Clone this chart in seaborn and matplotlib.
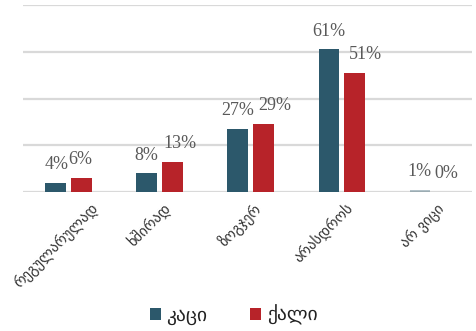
import matplotlib
matplotlib.use("Agg")
import matplotlib.pyplot as plt
import matplotlib.transforms as mtransforms
from matplotlib.patches import Patch
import seaborn as sns
import pandas as pd

categories = ["რეგულარულად", "ხშირად", "ზოგჯერ", "არასდროს", "არ ვიცი"]
series = ["კაცი", "ქალი"]
men = [4, 8, 27, 61, 1]
women = [6, 13, 29, 51, 0]
colors = ["#2C586B", "#B72329"]

df = pd.DataFrame({
    "cat": categories * 2,
    "sex": [series[0]] * len(categories) + [series[1]] * len(categories),
    "val": men + women,
})

sns.set_theme(style="white")
plt.rcParams["font.family"] = ["DejaVu Sans"]

fig = plt.figure(figsize=(4.77, 3.31), dpi=100)
ax = fig.add_axes([23 / 477, 1 - 192 / 331, 449 / 477, 187 / 331])

sns.barplot(data=df, x="cat", y="val", hue="sex", palette=colors,
            saturation=1, width=0.57, gap=0.21, ax=ax, edgecolor="none",
            legend=False, zorder=3)

ax.set_ylim(0, 80)
ax.set_xlim(-0.5, 4.43)
ax.set_yticks([0, 20, 40, 60, 80])
ax.yaxis.grid(True, color="#D9D9D9", linewidth=1.6, zorder=0)
ax.set_axisbelow(True)
ax.set_yticklabels([])
ax.tick_params(axis="y", length=0)
ax.tick_params(axis="x", length=0, pad=6)
for s in ax.spines.values():
    s.set_visible(False)
ax.set_xlabel("")
ax.set_ylabel("")

# horizontal nudges (points) so neighbouring value labels do not collide
nudges = [[1, 0, 0, 0, 0], [-1, 5, 8, 8, 0]]
for k, cont in enumerate(ax.containers):
    cont[len(categories) - 1].set_alpha(0.35)
    labels = [f"{v:.0f}%" for v in cont.datavalues]
    anns = ax.bar_label(cont, labels=labels, padding=7, fontsize=13,
                        color="#595959", family="Liberation Serif")
    for j, a in enumerate(anns):
        x0, y0 = a.xyann
        a.xyann = (x0 + nudges[k][j], y0)

ax.set_xticks(range(len(categories)))
ax.set_xticklabels(categories, rotation=45, ha="right",
                   rotation_mode="anchor", fontsize=10.5, color="#333333")
for i, t in enumerate(ax.get_xticklabels()):
    dx = 22 if i == 0 else 3
    t.set_transform(t.get_transform() +
                    mtransforms.ScaledTranslation(dx / 100, 0, fig.dpi_scale_trans))

handles = [Patch(facecolor=c, edgecolor="none") for c in colors]
fig.legend(handles, series, loc="center", bbox_to_anchor=(0.49, 1 - 315 / 331),
           ncol=2, frameon=False, fontsize=14, handlelength=0.55,
           handleheight=0.55, columnspacing=2.2, handletextpad=0.3,
           labelcolor="#222222")

fig.savefig("out.png", dpi=100)
